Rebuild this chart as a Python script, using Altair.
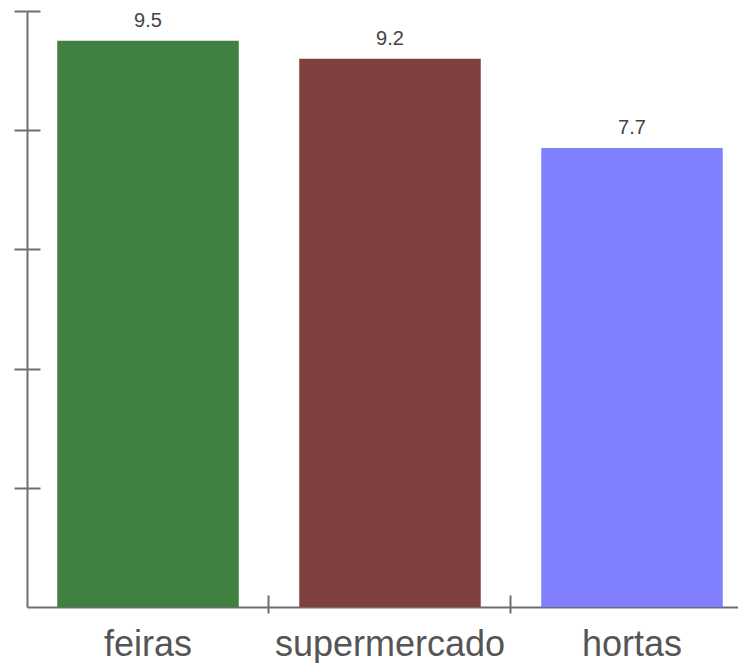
import altair as alt
import pandas as pd

categories = ["feiras", "supermercado", "hortas"]
values = [9.5, 9.2, 7.7]
colors = ["#408040", "#804040", "#8080ff"]
y_ticks = [2, 4, 6, 8, 10]
x_tick_cats = ["supermercado", "hortas"]

df = pd.DataFrame({"cat": categories, "val": values, "label": [f"{v:.1f}" for v in values]})

AX = "#6e6e6e"
BANDPOS = -0.1667

x_scale = alt.Scale(domain=categories, range=[0, 726], paddingInner=0.25, paddingOuter=0.125)
y_scale = alt.Scale(domain=[0, 10])

bars = alt.Chart(df).mark_bar().encode(
    x=alt.X("cat:N", sort=categories, scale=x_scale, title=None,
            axis=alt.Axis(orient="bottom", labelAngle=0, labelFontSize=36, labelFont="Liberation Sans",
                          labelColor="#555555", labelPadding=20, labelLimit=0, ticks=False,
                          domainColor=AX, domainWidth=2, grid=False)),
    y=alt.Y("val:Q", scale=y_scale, title=None,
            axis=alt.Axis(orient="left", values=y_ticks, labels=False, tickSize=13, tickColor=AX,
                          tickWidth=2, domainColor=AX, domainWidth=2, grid=False)),
    color=alt.Color("cat:N", scale=alt.Scale(domain=categories, range=colors), legend=None),
)

text = alt.Chart(df).mark_text(baseline="alphabetic", dy=-14, fontSize=20, font="Liberation Sans",
                               color="#444444").encode(
    x=alt.X("cat:N", sort=categories, scale=x_scale, title=None,
            axis=alt.Axis(orient="bottom", offset=-12, values=x_tick_cats, labels=False, domain=False,
                          bandPosition=BANDPOS, tickSize=18, tickColor=AX, tickWidth=2, grid=False)),
    y=alt.Y("val:Q", scale=y_scale, title=None,
            axis=alt.Axis(orient="left", offset=-13, values=y_ticks, labels=False, domain=False,
                          tickSize=13, tickColor=AX, tickWidth=2, grid=False)),
    text="label:N",
)

chart = alt.layer(bars, text).resolve_axis(x="independent", y="independent").properties(
    width=711, height=596,
    background="white",
    padding={"left": 19, "top": 3, "right": 0, "bottom": 56},
    autosize=alt.AutoSizeParams(type="none"),
).configure_view(stroke=None, strokeWidth=0)

chart.save("out.html", embed_options={"renderer": "svg", "actions": False})
